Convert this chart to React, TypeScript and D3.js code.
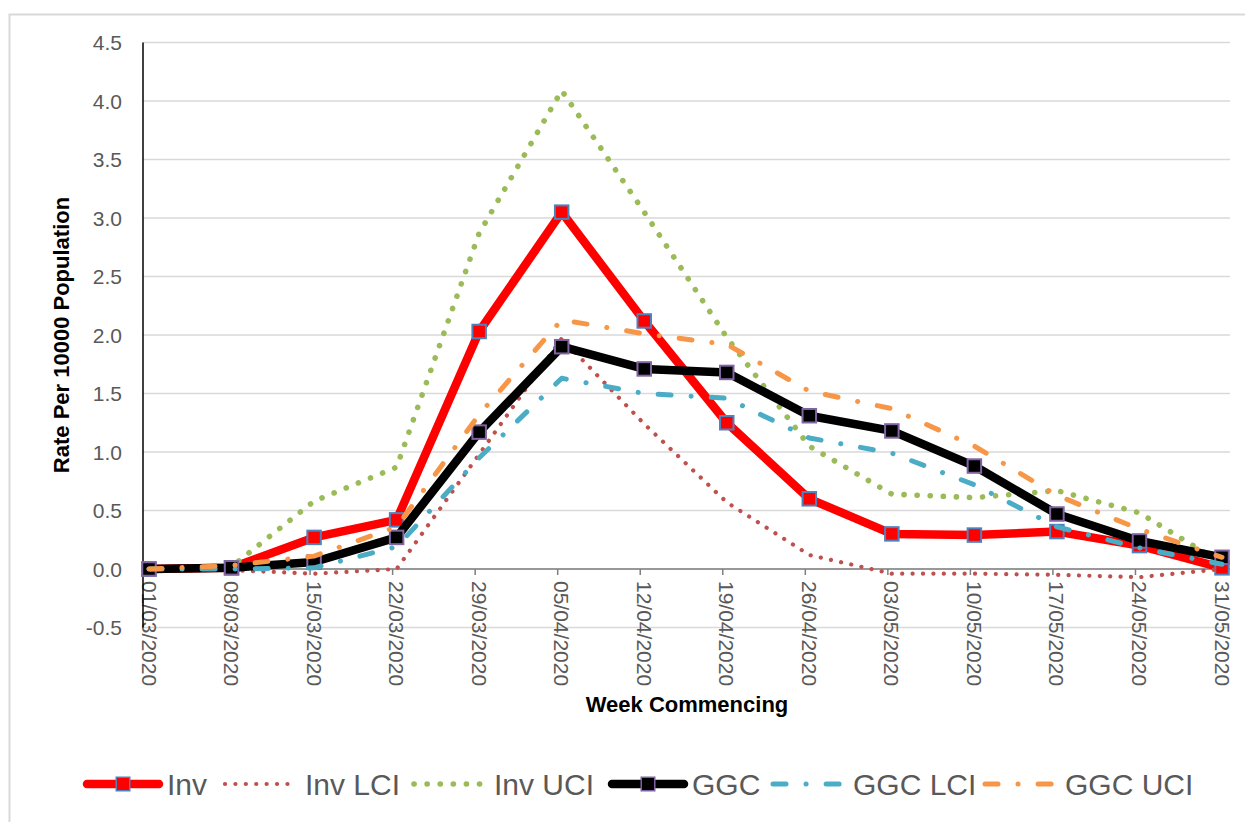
import React from 'react';
import * as d3 from 'd3';

const categories = ['01/03/2020','08/03/2020','15/03/2020','22/03/2020','29/03/2020','05/04/2020','12/04/2020','19/04/2020','26/04/2020','03/05/2020','10/05/2020','17/05/2020','24/05/2020','31/05/2020'];
const inv =    [0, 0.01, 0.27, 0.42, 2.03, 3.05, 2.12, 1.25, 0.60, 0.30, 0.29, 0.32, 0.20, 0.01];
const invLCI = [0, -0.01, -0.04, 0.0, 0.98, 1.97, 1.24, 0.57, 0.12, -0.04, -0.04, -0.05, -0.07, 0.0];
const invUCI = [0, 0.02, 0.58, 0.87, 2.87, 4.09, 3.05, 1.98, 1.05, 0.64, 0.61, 0.67, 0.48, 0.05];
const ggc =    [0, 0.01, 0.06, 0.27, 1.17, 1.90, 1.71, 1.68, 1.31, 1.18, 0.88, 0.47, 0.24, 0.10];
const ggcLCI = [0, 0.0, 0.01, 0.19, 0.95, 1.63, 1.50, 1.46, 1.12, 0.99, 0.72, 0.36, 0.18, 0.04];
const ggcUCI = [0, 0.03, 0.11, 0.36, 1.32, 2.13, 2.01, 1.92, 1.52, 1.37, 1.05, 0.63, 0.34, 0.10];
const yTickValues = [-0.5, 0, 0.5, 1.0, 1.5, 2.0, 2.5, 3.0, 3.5, 4.0, 4.5];

type Style = { color: string; width: number; dash?: string; marker?: { fill: string; stroke: string } };
const series: { name: string; values: number[]; style: Style }[] = [
  { name: 'Inv', values: inv, style: { color: '#ff0000', width: 8.5, marker: { fill: '#ff0000', stroke: '#4f81bd' } } },
  { name: 'Inv LCI', values: invLCI, style: { color: '#c0504d', width: 4.2, dash: '0.1 10.3' } },
  { name: 'Inv UCI', values: invUCI, style: { color: '#9bbb59', width: 5.6, dash: '0.1 13' } },
  { name: 'GGC', values: ggc, style: { color: '#000000', width: 8.5, marker: { fill: '#000000', stroke: '#8064a2' } } },
  { name: 'GGC LCI', values: ggcLCI, style: { color: '#4bacc6', width: 5, dash: '13 20 0.1 20' } },
  { name: 'GGC UCI', values: ggcUCI, style: { color: '#f79646', width: 5, dash: '13 20 0.1 20' } },
];

const legendX = [87, 225, 414, 612, 773, 985];
const FONT = "'Liberation Sans', Arial, sans-serif";

export default function App() {
  const W = 1245, H = 822;
  const x = d3.scalePoint<string>().domain(categories).range([149, 1222]);
  const y = d3.scaleLinear().domain([-0.5, 4.5]).range([627.5, 42.5]);
  const plotLeft = 143, plotRight = 1230;
  const line = (vals: number[]) =>
    d3.line<number>().x((_, i) => x(categories[i]) as number).y((v) => y(v))(vals) as string;
  const fmt = (t: number) => d3.format('.1f')(t).replace('\u2212', '-');
  const legendY = 784;
  const ms = 13.5;

  return (
    <svg width={W} height={H} style={{ position: 'absolute', left: 0, top: 0, background: '#fff' }}>
      <rect x={0} y={0} width={W} height={H} fill="#fff" />
      <rect x={9.5} y={14.5} width={W + 20} height={H + 20} fill="none" stroke="#d9d9d9" strokeWidth={2} />
      {yTickValues.map((t) => (
        <line key={'g' + t} x1={plotLeft} x2={plotRight} y1={y(t)} y2={y(t)} stroke="#d9d9d9" strokeWidth={1.5} />
      ))}
      {yTickValues.map((t) => (
        <text key={'yl' + t} x={122} y={y(t)} textAnchor="end" dominantBaseline="central" fontFamily={FONT} fontSize={21} fill="#595959">
          {fmt(t)}
        </text>
      ))}
      <line x1={plotLeft} x2={plotRight} y1={y(0)} y2={y(0)} stroke="#7f7f7f" strokeWidth={1.5} />
      {categories.map((c) => (
        <line key={'t' + c} x1={(x(c) as number) - 4} x2={(x(c) as number) - 4} y1={y(0)} y2={y(0) + 6} stroke="#7f7f7f" strokeWidth={1.5} />
      ))}
      {categories.map((c) => (
        <text key={'xl' + c} transform={`translate(${x(c)},${581}) rotate(90)`} textAnchor="start" dominantBaseline="central" fontFamily={FONT} fontSize={21} fill="#595959">
          {c}
        </text>
      ))}
      <line x1={plotLeft} x2={plotLeft} y1={y(4.5)} y2={y(-0.5)} stroke="#000" strokeWidth={1.5} />
      <text transform={`translate(61,335) rotate(-90)`} textAnchor="middle" dominantBaseline="central" fontFamily={FONT} fontWeight="bold" fontSize={22} fill="#000">
        Rate Per 10000 Population
      </text>
      <text x={687} y={712} textAnchor="middle" fontFamily={FONT} fontWeight="bold" fontSize={22} fill="#000">
        Week Commencing
      </text>
      {series.map((s) => (
        <g key={s.name}>
          <path d={line(s.values)} fill="none" stroke={s.style.color} strokeWidth={s.style.width}
            strokeDasharray={s.style.dash} strokeLinecap={s.style.dash ? 'round' : 'butt'} strokeLinejoin="round" />
          {s.style.marker && s.values.map((v, i) => (
            <rect key={i} x={(x(categories[i]) as number) - ms / 2} y={y(v) - ms / 2} width={ms} height={ms}
              fill={s.style.marker!.fill} stroke={s.style.marker!.stroke} strokeWidth={2} />
          ))}
        </g>
      ))}
      {series.map((s, i) => {
        const lx = legendX[i];
        const len = 72;
        return (
          <g key={'lg' + s.name}>
            <line x1={lx} x2={lx + len} y1={legendY} y2={legendY} stroke={s.style.color} strokeWidth={s.style.width}
              strokeDasharray={s.style.dash} strokeLinecap="round" />
            {s.style.marker && (
              <rect x={lx + len / 2 - ms / 2} y={legendY - ms / 2} width={ms} height={ms} fill={s.style.marker.fill} stroke={s.style.marker.stroke} strokeWidth={1.5} />
            )}
            <text x={lx + len + 8} y={legendY} dominantBaseline="central" fontFamily={FONT} fontSize={30} fill="#595959">
              {s.name}
            </text>
          </g>
        );
      })}
    </svg>
  );
}
